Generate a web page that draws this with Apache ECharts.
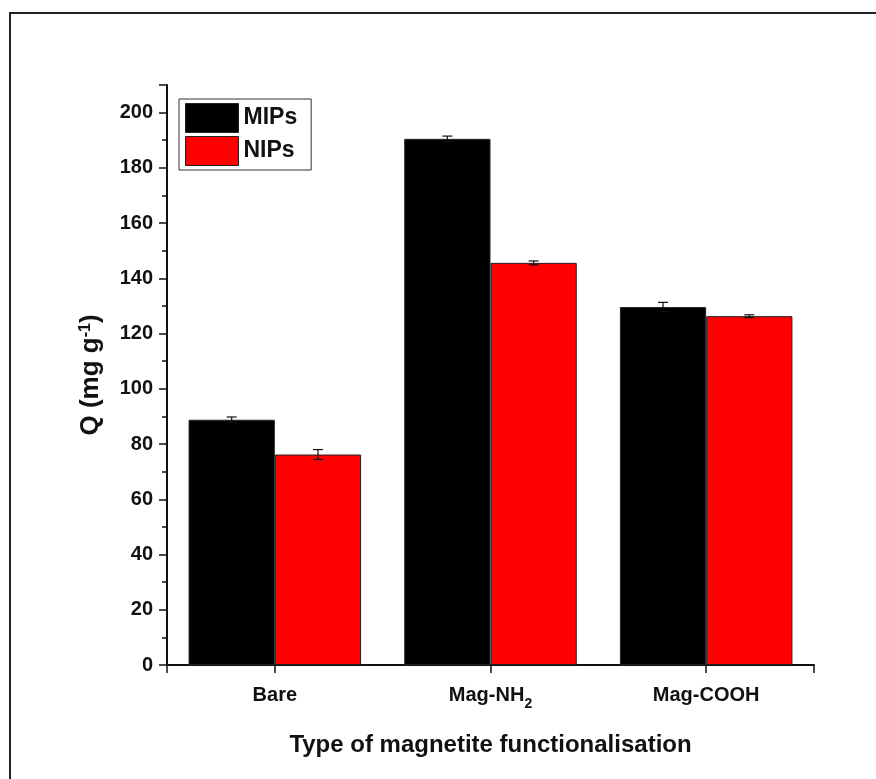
<!DOCTYPE html>
<html>
<head>
<meta charset="utf-8">
<script src="https://cdn.jsdelivr.net/npm/echarts@6/dist/echarts.min.js"></script>
<style>
  html, body { margin: 0; padding: 0; background: #fff; }
  #wrap { position: relative; width: 876px; height: 779px; overflow: hidden; }
  #frame { position: absolute; left: 9px; top: 12px; width: 900px; height: 800px;
           border-left: 2px solid #222; border-top: 2px solid #222; box-sizing: border-box; }
  #chart { position: absolute; left: 0; top: 0; width: 876px; height: 779px; }
</style>
</head>
<body>
<div id="wrap">
  <div id="frame"></div>
  <div id="chart"></div>
</div>
<script>
// Adsorption capacity by magnetite surface functionalisation
const categories = ['Bare', 'Mag-NH2', 'Mag-COOH'];
const mipValues = [88.8, 190.5, 129.6];
const mipErrors = [1.0, 1.0, 1.7];
const nipValues = [76.2, 145.6, 126.3];
const nipErrors = [1.8, 0.7, 0.5];
const yTicks = { min: 0, max: 210, interval: 20 };

const FONT = '"Liberation Sans", Arial, sans-serif';
const BAR_CAT_GAP = 0.2;   // fraction of the category band left empty

const chart = echarts.init(document.getElementById('chart'), null, { renderer: 'canvas' });

// Error bars drawn on top of the bars; offsetSign picks the bar within a group
function errorSeries(values, errors, offsetSign, name) {
  return {
    type: 'custom',
    name: name + ' err',
    z: 10,
    silent: true,
    data: values.map((v, i) => [i, v - errors[i], v + errors[i]]),
    renderItem(params, api) {
      const band = api.size([1, 0])[0];
      const barW = band * (1 - BAR_CAT_GAP) / 2;
      const lo = api.coord([api.value(0), api.value(1)]);
      const hi = api.coord([api.value(0), api.value(2)]);
      const x = lo[0] + offsetSign * barW / 2;
      const cap = 5;
      const style = { stroke: '#111', lineWidth: 1.2 };
      return {
        type: 'group',
        children: [
          { type: 'line', shape: { x1: x, y1: lo[1], x2: x, y2: hi[1] }, style },
          { type: 'line', shape: { x1: x - cap, y1: hi[1], x2: x + cap, y2: hi[1] }, style },
          { type: 'line', shape: { x1: x - cap, y1: lo[1], x2: x + cap, y2: lo[1] }, style }
        ]
      };
    }
  };
}

const option = {
  animation: false,
  backgroundColor: 'transparent',
  grid: { left: 167, right: 62, top: 85, bottom: 114, containLabel: false },
  legend: {
    orient: 'vertical',
    left: 179, top: 99,
    icon: 'rect',
    itemWidth: 53, itemHeight: 29, itemGap: 3,
    padding: [4, 14, 4, 6],
    borderColor: '#333', borderWidth: 1,
    backgroundColor: '#fff',
    data: ['MIPs', 'NIPs'],
    textStyle: { fontFamily: FONT, fontWeight: 'bold', fontSize: 23, color: '#111' },
    itemStyle: { borderColor: '#222', borderWidth: 1 }
  },
  xAxis: [
    {
      type: 'category',
      data: categories,
      boundaryGap: true,
      axisLine: { lineStyle: { color: '#111', width: 2 } },
      axisTick: { show: true, alignWithLabel: true, inside: false, length: 8, lineStyle: { color: '#111', width: 1.5 } },
      axisLabel: {
        margin: 19,
        formatter: v => v === 'Mag-NH2' ? '{b|Mag-NH}{s|2}' : '{b|' + v + '}',
        rich: {
          b: { fontFamily: FONT, fontWeight: 'bold', fontSize: 20, color: '#111', lineHeight: 22 },
          s: { fontFamily: FONT, fontWeight: 'bold', fontSize: 14, color: '#111', verticalAlign: 'bottom', lineHeight: 14, padding: [0, 0, -5, 0] }
        }
      },
      name: 'Type of magnetite functionalisation',
      nameLocation: 'middle',
      nameGap: 68,
      nameTextStyle: { fontFamily: FONT, fontWeight: 'bold', fontSize: 24, color: '#111' }
    },
    {
      // end ticks at both extremities of the category axis
      type: 'value',
      position: 'bottom',
      min: 0, max: 3, interval: 3,
      axisLine: { show: false },
      axisTick: { show: true, length: 8, lineStyle: { color: '#111', width: 1.5 } },
      axisLabel: { show: false },
      splitLine: { show: false }
    }
  ],
  yAxis: {
    type: 'value',
    min: yTicks.min, max: yTicks.max, interval: yTicks.interval,
    axisLine: { show: true, lineStyle: { color: '#111', width: 2 } },
    axisTick: { show: true, length: 8, lineStyle: { color: '#111', width: 1.5 } },
    minorTick: { show: true, splitNumber: 2, length: 5, lineStyle: { color: '#111', width: 1.5 } },
    splitLine: { show: false },
    axisLabel: {
      margin: 14,
      fontFamily: FONT, fontWeight: 'bold', fontSize: 20, color: '#111',
      formatter: v => (v > 200 ? '' : String(v))
    },
    name: '{b|Q (mg g}{s|-1}{b|)}',
    nameLocation: 'middle',
    nameGap: 63,
    nameRotate: 90,
    nameTextStyle: {
      rich: {
        b: { fontFamily: FONT, fontWeight: 'bold', fontSize: 26, color: '#111' },
        s: { fontFamily: FONT, fontWeight: 'bold', fontSize: 16, color: '#111', verticalAlign: 'top', padding: [0, 0, 10, 0] }
      }
    }
  },
  series: [
    {
      name: 'MIPs', type: 'bar', data: mipValues,
      barGap: '0%', barCategoryGap: (BAR_CAT_GAP * 100) + '%',
      itemStyle: { color: '#000', borderColor: '#222', borderWidth: 1 }
    },
    {
      name: 'NIPs', type: 'bar', data: nipValues,
      barGap: '0%', barCategoryGap: (BAR_CAT_GAP * 100) + '%',
      itemStyle: { color: '#ff0000', borderColor: '#222', borderWidth: 1 }
    },
    errorSeries(mipValues, mipErrors, -1, 'MIPs'),
    errorSeries(nipValues, nipErrors, 1, 'NIPs')
  ]
};

chart.setOption(option);
</script>
</body>
</html>
